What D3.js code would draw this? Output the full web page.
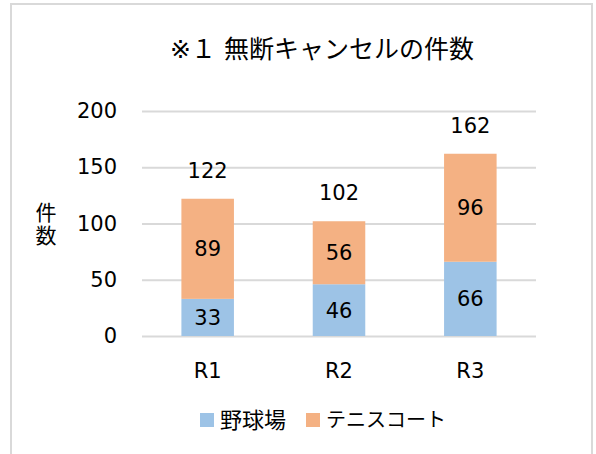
<!DOCTYPE html>
<html>
<head>
<meta charset="utf-8">
<script src="https://cdn.jsdelivr.net/npm/d3@7"></script>
<style>
  body { margin: 0; background: #fff; }
  text { font-family: "DejaVu Sans", "Noto Sans CJK JP", sans-serif; fill: #000; }
</style>
</head>
<body>
<div id="chart"></div>
<script>
/** chart data */
const categories = ['R1', 'R2', 'R3'];
const seriesNames = ['野球場', 'テニスコート'];
const baseball = [33, 46, 66];
const tennis = [89, 56, 96];
const totals = [122, 102, 162];
const yTicks = [0, 50, 100, 150, 200];
const colors = ['#9dc3e6', '#f4b183'];

/** set up canvas */
let width = 596, height = 454;
let margin = { top: 111, right: 60, bottom: 118, left: 142 };
let plot_w = width - margin.left - margin.right;
let plot_h = height - margin.top - margin.bottom;

let svg = d3.select('#chart').append('svg')
    .attr('width', width)
    .attr('height', height);

/** outer border */
svg.append('rect')
    .attr('x', 11).attr('y', 4)
    .attr('width', 581).attr('height', 470)
    .attr('fill', 'none')
    .attr('stroke', '#d9d9d9')
    .attr('stroke-width', 2);

svg.append('text')
    .attr('x', 322).attr('y', 58)
    .attr('text-anchor', 'middle')
    .style('font-size', '25px')
    .text('※１ 無断キャンセルの件数');

let canvas = svg.append('g')
    .attr('transform', `translate(${margin.left}, ${margin.top})`);

/** scales */
let xScale = d3.scaleBand()
    .domain(categories)
    .range([0, plot_w])
    .paddingInner(0.6)
    .paddingOuter(0.3);

let yScale = d3.scaleLinear()
    .domain([0, 200])
    .range([plot_h, 0]);

/** gridlines + y labels */
let yAxis = d3.axisLeft(yScale)
    .tickValues(yTicks)
    .tickSize(-plot_w)
    .tickPadding(25);

let gy = canvas.append('g').call(yAxis);
gy.select('.domain').remove();
gy.selectAll('line').attr('stroke', '#d9d9d9').attr('stroke-width', 2);
gy.selectAll('text').style('font-size', '21px').attr('fill', '#000');

/** stacked data */
let stack = categories.map((c, i) => [
    { cat: c, y0: 0, y1: baseball[i], v: baseball[i], s: 0 },
    { cat: c, y0: baseball[i], y1: baseball[i] + tennis[i], v: tennis[i], s: 1 }
]).flat();

canvas.selectAll('.bar')
    .data(stack)
    .enter()
        .append('rect')
        .attr('class', 'bar')
        .attr('x', d => xScale(d.cat))
        .attr('y', d => yScale(d.y1))
        .attr('width', xScale.bandwidth())
        .attr('height', d => yScale(d.y0) - yScale(d.y1))
        .attr('fill', d => colors[d.s]);

canvas.selectAll('.val')
    .data(stack)
    .enter()
        .append('text')
        .attr('class', 'val')
        .attr('x', d => xScale(d.cat) + xScale.bandwidth() / 2)
        .attr('y', d => yScale((d.y0 + d.y1) / 2))
        .attr('dy', '0.36em')
        .attr('text-anchor', 'middle')
        .style('font-size', '21px')
        .text(d => d.v);

/** totals on top */
canvas.selectAll('.total')
    .data(categories)
    .enter()
        .append('text')
        .attr('class', 'total')
        .attr('x', d => xScale(d) + xScale.bandwidth() / 2)
        .attr('y', (d, i) => yScale(totals[i]) - 21)
        .attr('text-anchor', 'middle')
        .style('font-size', '21px')
        .text((d, i) => totals[i]);

/** x axis labels */
let xAxis = d3.axisBottom(xScale).tickSize(0).tickPadding(27);
let gx = canvas.append('g')
    .attr('transform', `translate(0, ${plot_h})`)
    .call(xAxis);
gx.select('.domain').remove();
gx.selectAll('text').style('font-size', '21px').attr('fill', '#000');

/** y axis title (vertical) */
let ytitle = svg.append('text')
    .attr('text-anchor', 'middle')
    .style('font-size', '21px');
ytitle.append('tspan').attr('x', 46).attr('y', 220).text('件');
ytitle.append('tspan').attr('x', 46).attr('y', 243).text('数');

/** legend */
let legendX = [200, 306];
let legend = svg.selectAll('.legend')
    .data(seriesNames)
    .enter()
        .append('g')
        .attr('class', 'legend')
        .attr('transform', (d, i) => `translate(${legendX[i]}, 413)`);
legend.append('rect')
    .attr('width', 14).attr('height', 14)
    .attr('fill', (d, i) => colors[i]);
legend.append('text')
    .attr('x', 20).attr('y', 7)
    .attr('dy', '0.36em')
    .style('font-size', (d, i) => i === 0 ? '22px' : '20px')
    .text(d => d);
</script>
</body>
</html>
